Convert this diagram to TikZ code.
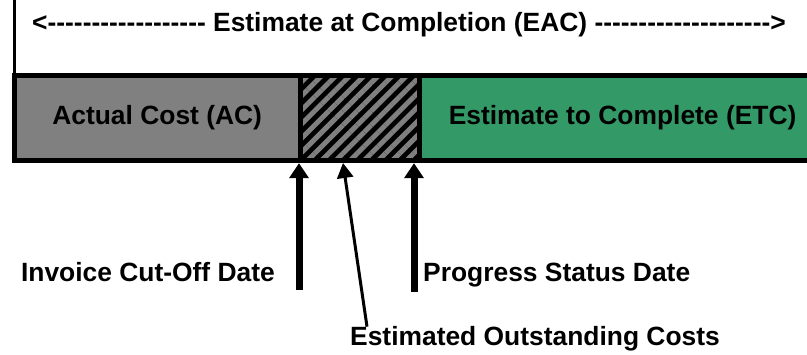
\documentclass[tikz,border=0pt]{standalone}
\usepackage{fontspec}
\setmainfont{Liberation Sans}
\usetikzlibrary{arrows.meta, patterns.meta, positioning}
\definecolor{acgray}{RGB}{128,128,128}
\definecolor{etcgreen}{RGB}{51,153,102}
\newcommand{\lblfont}{\fontsize{26.4}{30}\bfseries\selectfont}
\newcommand{\dashrow}[1]{\foreach \k in {1,...,#1}{-}}
\tikzset{seg/.style={rectangle, anchor=west, minimum height=85, inner sep=0, font=\lblfont}}
\tikzset{hatch/.style={preaction={fill=black}, pattern={Lines[angle=45, distance=10pt, line width=5pt]}, pattern color=acgray}}
\tikzset{lbl/.style={inner sep=0, font=\lblfont}}
\tikzset{frame/.style={line width=5pt, line cap=rect}}
\tikzset{divider/.style={line width=5pt}}
\tikzset{bigarrow/.style={line width=7pt, -{Triangle[width=19pt, length=15pt]}}}
\tikzset{thinarrow/.style={line width=3pt, -{Triangle[width=16pt, length=15pt]}}}

\begin{document}
\begin{tikzpicture}[x=1pt, y=-1pt]
\useasboundingbox (0,0) rectangle (807,355);

\node (eac) [lbl, anchor=base] at (409,31.5) {<\dashrow{18} Estimate at Completion (EAC) \dashrow{20}>};

\node (ac) [seg, fill=acgray, minimum width=286] at (14,118) {Actual Cost (AC)};
\node (eoc) [seg, hatch, minimum width=114, right=0pt of ac] {};
\node (etc) [seg, fill=etcgreen, minimum width=406, right=0pt of eoc] {Estimate to Complete (ETC)};

\draw[line width=3pt] (14,0) -- (ac.north west);
\draw[frame] (etc.north east) -- (ac.north west) -- (ac.south west) -- (etc.south east);
\draw[divider] (ac.north east) -- (ac.south east);
\draw[divider] (eoc.north east) -- (eoc.south east);

\coordinate (barbase) at ([yshift=-2.5pt]ac.south);

\node (cutofflbl) [lbl, anchor=base east] at (275,281.5) {Invoice Cut-Off Date};
\node (statuslbl) [lbl, anchor=base west] at (423,281.5) {Progress Status Date};
\node (outlbl) [lbl, anchor=base west] at (350,346) {Estimated Outstanding Costs};

\coordinate (cutoff) at (299,290);
\draw[bigarrow] (cutoff) -- (cutoff |- barbase);

\coordinate (status) at (414,292);
\draw[bigarrow] (status) -- (status |- barbase);

\coordinate (osc) at (343,163);
\draw[thinarrow] ([xshift=17pt]outlbl.north west) -- (osc);

\end{tikzpicture}
\end{document}
